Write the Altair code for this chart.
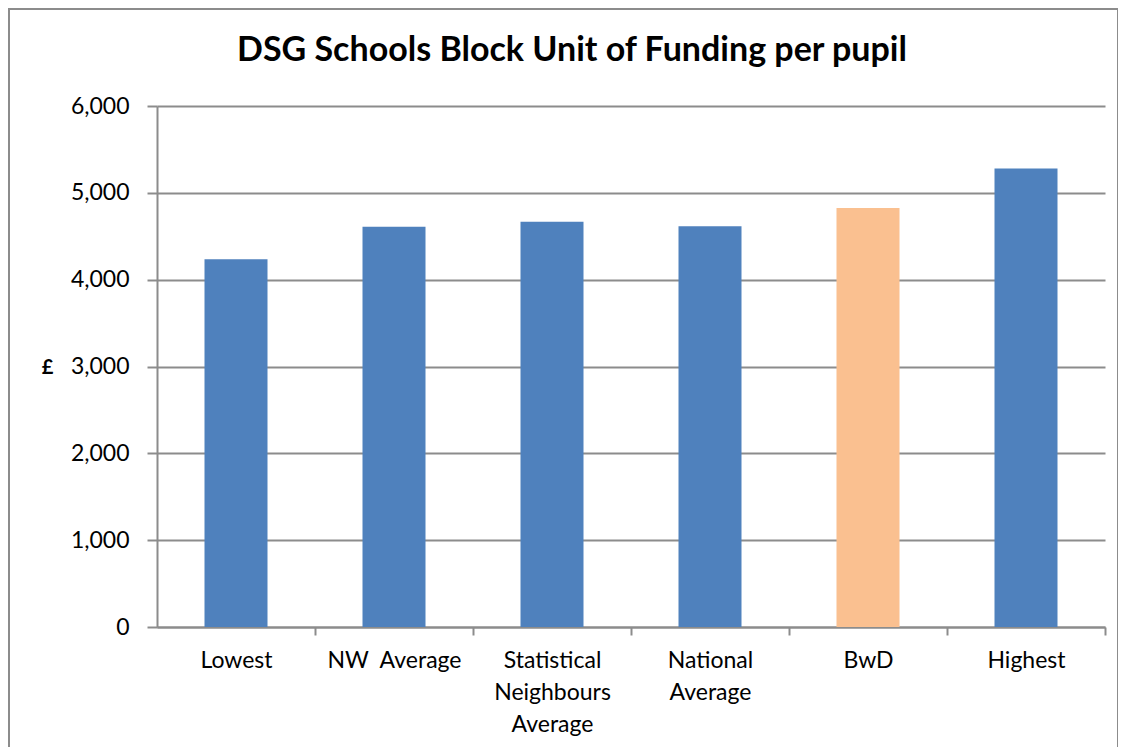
import altair as alt
import pandas as pd

categories = ["Lowest", "NW  Average", "Statistical Neighbours Average",
              "National Average", "BwD", "Highest"]
values = [4236, 4608, 4666, 4616, 4824, 5281]
groups = ["Other", "Other", "Other", "Other", "BwD", "Other"]
group_domain = ["Other", "BwD"]
group_colors = ["#4F81BD", "#FAC090"]
y_ticks = [0, 1000, 2000, 3000, 4000, 5000, 6000]

df = pd.DataFrame({"category": categories, "value": values, "group": groups})

FONT = "Lato"
GRID = "#8C8C8C"
STEP_HALF_GAP = 47.4  # half of the gap between bars (in px) for boundary ticks

label_expr = ("datum.label == 'Statistical Neighbours Average' ? "
              "['Statistical', 'Neighbours', 'Average'] : "
              "datum.label == 'National Average' ? ['National', 'Average'] : "
              "replace(datum.label, '  ', ' \u00a0')")

bars = alt.Chart(df).mark_bar(size=63).encode(
    x=alt.X("category:N", sort=categories,
            scale=alt.Scale(paddingInner=0.6, paddingOuter=0.3),
            axis=alt.Axis(title=None, labelAngle=0, labelExpr=label_expr,
                          bandPosition=1, tickOffset=STEP_HALF_GAP,
                          labelOffset=-STEP_HALF_GAP,
                          tickSize=8, tickColor=GRID,
                          tickWidth=2, domainColor=GRID, domainWidth=2,
                          labelFont=FONT, labelFontSize=23, labelColor="#000000",
                          labelPadding=14, labelLineHeight=32,
                          labelBaseline="top")),
    y=alt.Y("value:Q",
            scale=alt.Scale(domain=[0, 6000], nice=False),
            axis=alt.Axis(title="£", titleAngle=0, titleFont=FONT,
                          titleFontSize=20, titleFontWeight="bold",
                          titleColor="#000000", titleX=-110, titleY=261,
                          titleAlign="center", titleBaseline="middle",
                          values=y_ticks, format=",.0f", grid=True,
                          gridColor=GRID, gridWidth=2, tickSize=10,
                          tickColor=GRID, tickWidth=2, domainColor=GRID,
                          domainWidth=2, labelFont=FONT, labelFontSize=23,
                          labelColor="#000000", labelPadding=18)),
    color=alt.Color("group:N", scale=alt.Scale(domain=group_domain, range=group_colors),
                    legend=None),
)

frame = alt.Chart(df).mark_rect(fill=None, stroke="#8C8C8C", strokeWidth=2,
                                clip=False).encode(
    x=alt.value(-148), x2=alt.value(961), y=alt.value(-97), y2=alt.value(700)
)

chart = alt.layer(frame, bars).properties(
    width=948, height=521,
    title=alt.TitleParams("DSG Schools Block Unit of Funding per pupil",
                          font=FONT, fontSize=34, fontWeight="bold",
                          color="#000000", anchor="middle", frame="group",
                          dx=-59, offset=-87, baseline="alphabetic"),
    padding={"left": 149, "top": 98, "right": 13, "bottom": 120},
    autosize=alt.AutoSizeParams(type="none"),
    background="#FFFFFF",
).configure_view(stroke=None)

chart.save("out.html", embed_options={"renderer": "svg", "actions": False})
